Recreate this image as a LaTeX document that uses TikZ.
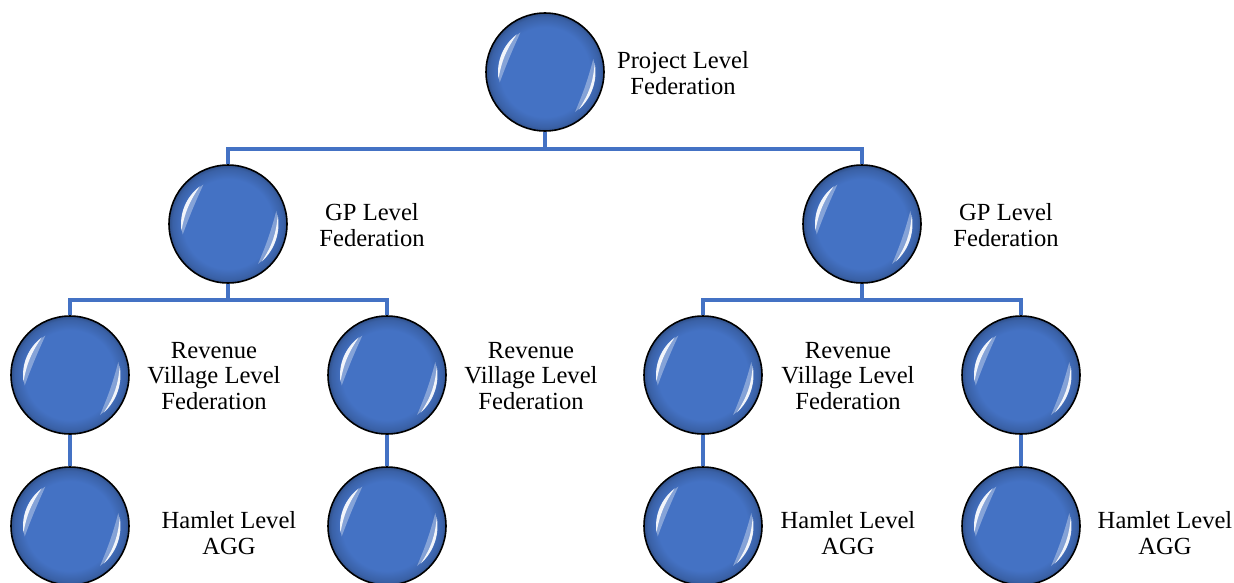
\documentclass[tikz,border=0pt]{standalone}
\usepackage{fontspec}
\setmainfont{Liberation Serif}
\definecolor{ballblue}{HTML}{4472C4}
\pgfdeclareradialshading{ballshade}{\pgfpoint{0bp}{0bp}}{color(0bp)=(ballblue); color(19bp)=(ballblue); color(23.5bp)=(ballblue!85!black); color(25bp)=(ballblue!70!black); color(50bp)=(ballblue!70!black)}
\begin{document}
\begin{tikzpicture}[x=0.02cm,y=-0.02cm,
    ball/.style={circle, draw=black, line width=0.9pt, minimum size=2.36cm, inner sep=0, shading=ballshade,
        path picture={
            \fill[white,opacity=.35] ([shift={(122:0.93cm)}]path picture bounding box.center) arc (122:193:0.93cm)
                to[bend left=2] ([shift={(122:0.93cm)}]path picture bounding box.center);
            \fill[white,opacity=.9] ([shift={(127:0.94cm)}]path picture bounding box.center) arc (127:188:0.94cm)
                to[bend left=12] ([shift={(127:0.94cm)}]path picture bounding box.center);
            \fill[white,opacity=.35] ([shift={(-53:1.0cm)}]path picture bounding box.center) arc (-53:15:1.0cm)
                to[bend left=4] ([shift={(-53:1.0cm)}]path picture bounding box.center);
            \fill[white,opacity=.9] ([shift={(-48:1.01cm)}]path picture bounding box.center) arc (-48:10:1.01cm)
                to[bend left=14] ([shift={(-48:1.01cm)}]path picture bounding box.center);
        }},
    lbl/.style={align=center, font=\fontsize{14}{14.5}\selectfont, inner sep=0},
    link/.style={draw=ballblue, line width=2pt}]
    \useasboundingbox (0,0) rectangle (1234,582);
    \clip (0,0) rectangle (1234,582);

    % circles
    \node[ball] (pl) at (545,72) {};
    \node[ball] (gpa) at (228,224) {};
    \node[ball] (gpb) at (862,224) {};
    \node[ball] (rva) at (70,375) {};
    \node[ball] (rvb) at (387,375) {};
    \node[ball] (rvc) at (703,375) {};
    \node[ball] (rvd) at (1021,375) {};
    \node[ball] (hma) at (70,526) {};
    \node[ball] (hmb) at (387,526) {};
    \node[ball] (hmc) at (703,526) {};
    \node[ball] (hmd) at (1021,526) {};

    % labels
    \node[lbl] (plt) at (683,73) {Project Level\\Federation};
    \node[lbl] (gpat) at (372,225) {GP Level\\Federation};
    \node[lbl] (gpbt) at (1006,225) {GP Level\\Federation};
    \node[lbl] (rvat) at (214,376) {Revenue\\Village Level\\Federation};
    \node[lbl] (rvbt) at (531,376) {Revenue\\Village Level\\Federation};
    \node[lbl] (rvct) at (848,376) {Revenue\\Village Level\\Federation};
    \node[lbl] (hmat) at (229,533) {Hamlet Level\\AGG};
    \node[lbl] (hmct) at (848,533) {Hamlet Level\\AGG};
    \node[lbl] (hmdt) at (1165,533) {Hamlet Level\\AGG};

    % connectors
    \draw[link] (pl.south) -- ++(0,17) -| (gpa.north);
    \draw[link] (pl.south) -- ++(0,17) -| (gpb.north);
    \draw[link] (gpa.south) -- ++(0,16) -| (rva.north);
    \draw[link] (gpa.south) -- ++(0,16) -| (rvb.north);
    \draw[link] (gpb.south) -- ++(0,16) -| (rvc.north);
    \draw[link] (gpb.south) -- ++(0,16) -| (rvd.north);
    \draw[link] (rva.south) -- (hma.north);
    \draw[link] (rvb.south) -- (hmb.north);
    \draw[link] (rvc.south) -- (hmc.north);
    \draw[link] (rvd.south) -- (hmd.north);
\end{tikzpicture}
\end{document}
